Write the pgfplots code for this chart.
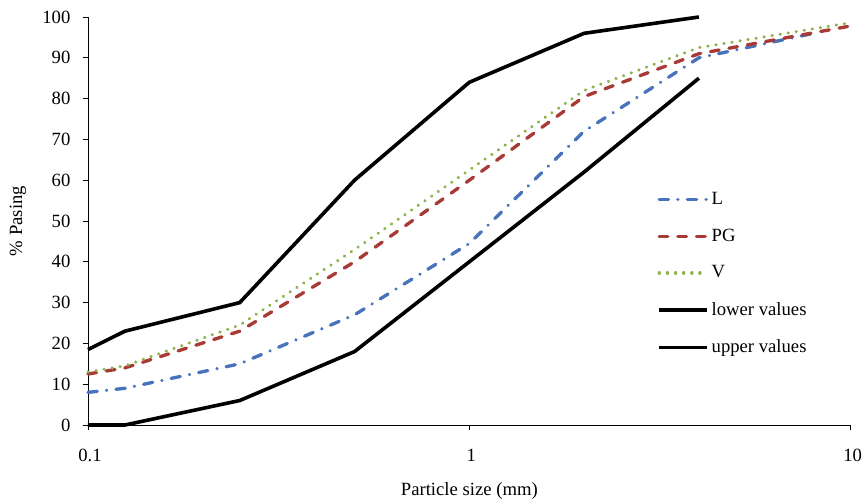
\documentclass[border=0pt]{standalone}
\usepackage{pgfplots}
\pgfplotsset{compat=1.18}
\usepackage{fontspec}
\setmainfont{Liberation Serif}
\definecolor{cL}{RGB}{72,115,188}
\definecolor{cPG}{RGB}{168,58,54}
\definecolor{cV}{RGB}{140,178,76}
\begin{document}
\fontsize{14}{16}\selectfont
\begin{tikzpicture}
\begin{semilogxaxis}[
  at={(0,0)}, anchor=south west,
  scale only axis, width=572pt, height=306pt,
  xmin=0.1, xmax=10, ymin=0, ymax=100,
  axis lines*=left, axis line style={-, line width=0.7pt, black},
  xtick={0.1,1,10}, xticklabels={0.1,1,10},
  xminorticks=false,
  ytick={0,10,...,100},
  tick align=outside, major tick length=4pt,
  tick style={line width=0.7pt, black},
  /pgf/number format/assume math mode=true,
  ticklabel style={font=\fontsize{14}{16}\selectfont, inner sep=0pt},
  xticklabel style={yshift=-14pt, xshift=1.5pt},
  yticklabel style={xshift=-9pt},
  xlabel={Particle size (mm)},
  ylabel={\% Pasing},
  xlabel style={at={(axis description cs:0.5,-0.162)}, anchor=center, inner sep=0pt, font=\fontsize{14}{16}\selectfont},
  ylabel style={at={(axis description cs:-0.0917,0.5)}, anchor=center, inner sep=0pt, font=\fontsize{14}{16}\selectfont},
  clip=false,
  legend style={draw=none, fill=none, at={(axis description cs:0.741,0.585)}, anchor=north west, row sep=12.3pt, font=\fontsize{14}{16}\selectfont},
  legend cell align=left,
  legend image code/.code={\draw[#1] (0pt,0pt) -- (36pt,0pt);},
]
\addplot[cL, line width=2.5pt, line cap=round, dash pattern=on 7pt off 7pt on 0.1pt off 7pt] coordinates {
  (0.1,8) (0.125,9) (0.25,15) (0.5,27) (1,44.5) (2,72) (4,90) (8,96)};
\addlegendentry{L}
\addplot[cPG, line width=2.5pt, line cap=round, dash pattern=on 6.5pt off 7.5pt] coordinates {
  (0.1,12.5) (0.125,14) (0.25,23) (0.5,40) (1,60) (2,80.5) (4,91) (10,97.8)};
\addlegendentry{PG}
\addplot[cV, line width=2.5pt, line cap=round, dash pattern=on 0.1pt off 6pt] coordinates {
  (0.1,13) (0.125,14.5) (0.25,24.5) (0.5,43) (1,62.5) (2,82) (4,92.5) (10,98.6)};
\addlegendentry{V}
\addplot[black, line width=2.7pt] coordinates {
  (0.1,18.5) (0.125,23) (0.25,30) (0.5,60) (1,84) (2,96) (4,100)};
\addlegendentry{lower values}
\addplot[black, line width=2.7pt] coordinates {
  (0.1,0) (0.125,0) (0.25,6) (0.5,18) (1,40) (2,62) (4,85)};
\addlegendentry{upper values}
\end{semilogxaxis}
\path (-66pt,-56.25pt) rectangle (580.5pt,318.75pt);
\end{tikzpicture}
\end{document}
